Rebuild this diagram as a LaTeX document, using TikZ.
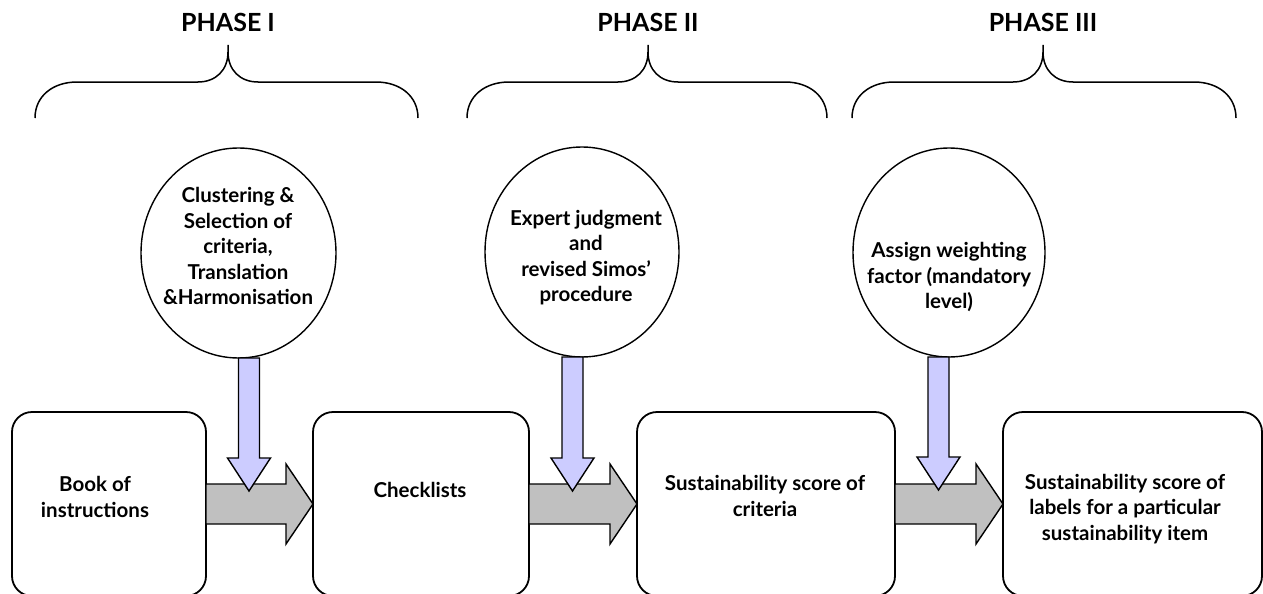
\documentclass[tikz,border=0pt]{standalone}
\usepackage{fontspec}
\setmainfont{Lato}
\usetikzlibrary{shapes.geometric,calc}
\definecolor{flowgray}{HTML}{C0C0C0}
\definecolor{inputblue}{HTML}{CCCCFF}
\tikzset{
  stagebox/.style={draw, line width=1.8pt, rounded corners=20pt, inner sep=0pt, outer sep=0pt},
  actioncircle/.style={draw, ellipse, line width=1.4pt, inner sep=0pt, outer sep=0pt},
  bodytext/.style={align=center, inner sep=0pt, font=\bfseries\fontsize{20.5}{25.5}\selectfont},
  phasetext/.style={anchor=base, inner sep=0pt, font=\bfseries\fontsize{25}{29}\selectfont},
  bracepath/.style={draw, line width=1.5pt},
  flowarrow/.style={draw, fill=flowgray, line width=1.4pt, line join=miter},
  inputarrow/.style={draw, fill=inputblue, line width=1.4pt, line join=miter},
}
\begin{document}
\begin{tikzpicture}[x=1pt,y=-1pt]
\useasboundingbox (0,0) rectangle (1263,594);
\clip (0,0) rectangle (1263,594);

% phase titles
\node[phasetext] (p1) at (228,32) {PHASE I};
\node[phasetext] (p2) at (648,32) {PHASE II};
\node[phasetext] (p3) at (1043,32) {PHASE III};

% curly braces under the titles: left end, tip, right end
\foreach \L/\T/\R in {35/228/418, 467/648/827, 852/1043/1236}{
  \path[bracepath]
    (\L,118) .. controls (\L,96) and (\L+18,82) .. (\L+42,82)
    -- (\T-30,82) .. controls (\T-12,82) and (\T,70) .. (\T,52) -- (\T,45)
    (\T,52) .. controls (\T,70) and (\T+12,82) .. (\T+30,82)
    -- (\R-42,82) .. controls (\R-18,82) and (\R,96) .. (\R,118);
}

% stage boxes
\node[stagebox, minimum width=194pt, minimum height=184pt] (b1) at (109,504) {};
\node[stagebox, minimum width=216pt, minimum height=184pt] (b2) at (421,504) {};
\node[stagebox, minimum width=258pt, minimum height=184pt] (b3) at (766,504) {};
\node[stagebox, minimum width=259pt, minimum height=184pt] (b4) at (1132.5,504) {};

\node[bodytext] (b1t) at (95,497) {Book of\\instructions};
\node[bodytext] (b2t) at (420,490) {Checklists};
\node[bodytext] (b3t) at (765,496) {Sustainability score of\\criteria};
\node[bodytext] (b4t) at (1125,509) {Sustainability score of\\labels for a particular\\sustainability item};

% action circles
\node[actioncircle, minimum width=195pt, minimum height=210pt] (c1) at (238.5,253) {};
\node[actioncircle, minimum width=194pt, minimum height=210pt] (c2) at (582,252) {};
\node[actioncircle, minimum width=192pt, minimum height=209pt] (c3) at (949,252.5) {};

\node[bodytext] (c1t) at (238,246) {Clustering \&\\Selection of\\criteria,\\Translation\\\&Harmonisation};
\node[bodytext] (c2t) at (586,257.5) {Expert judgment\\and\\revised Simos’\\procedure};
\node[bodytext] (c3t) at (949,277) {Assign weighting\\factor (mandatory\\level)};

% block arrows between stages
\foreach \a/\b in {b1/b2, b2/b3, b3/b4}{
  \path[flowarrow]
    ([yshift=20pt]\a.east) -- ([xshift=-27pt,yshift=20pt]\b.west)
    -- ([xshift=-27pt,yshift=40pt]\b.west) -- (\b.west)
    -- ([xshift=-27pt,yshift=-40pt]\b.west) -- ([xshift=-27pt,yshift=-20pt]\b.west)
    -- ([yshift=-20pt]\a.east) -- cycle;
}

% input arrows from the circles onto the flow
\coordinate (t1) at (249,491);
\coordinate (t2) at (572.5,491);
\coordinate (t3) at (938.5,490);
\foreach \c/\t in {c1/t1, c2/t2, c3/t3}{
  \path[inputarrow] let \p1=(\c.south), \p2=(\t) in
    (\x2,\y2) -- (\x2-21.5pt,\y2+33pt) -- (\x2-10.5pt,\y2+33pt)
    -- (\x2-10.5pt,\y1) -- (\x2+10.5pt,\y1) -- (\x2+10.5pt,\y2+33pt)
    -- (\x2+21.5pt,\y2+33pt) -- cycle;
}
\end{tikzpicture}
\end{document}
